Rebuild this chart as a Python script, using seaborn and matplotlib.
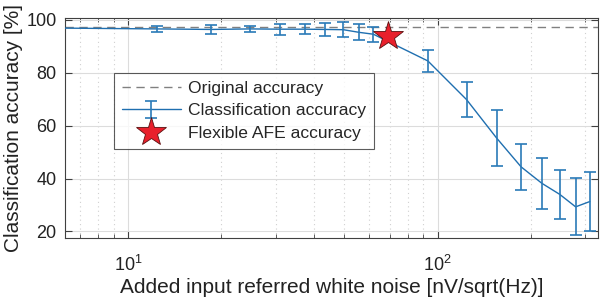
import numpy as np
import seaborn as sns
import matplotlib.pyplot as plt
from matplotlib.ticker import LogLocator, NullFormatter

# added noise levels [nV/sqrt(Hz)] and accuracy
noise = [6.2, 12.4, 18.6, 24.8, 31, 37.2, 43.4, 49.6, 55.8, 62,
         93, 124, 155, 186, 217, 248, 279, 310]
acc = [96.8, 96.5, 96.3, 96.5, 96.4, 96.4, 96.3, 96.2, 95.2, 94.5,
       84.4, 69.8, 55.3, 44.4, 38.2, 34.0, 29.3, 31.3]
err = [0.8, 1.0, 1.6, 1.1, 2.1, 1.9, 2.3, 2.8, 3.0, 2.8,
       4.3, 6.6, 10.7, 8.7, 9.6, 9.2, 10.8, 11.3]
original_acc = 97.1
afe_noise, afe_acc = 69, 94.0

blue = '#2a7ab8'

sns.set_style('ticks')
plt.rcParams['font.family'] = ['Liberation Sans', 'DejaVu Sans']

fig = plt.figure(figsize=(6, 3.01), dpi=100)
ax = fig.add_axes([0.108, 0.209, 0.889, 0.731])

dash = ax.axhline(original_acc, color='#808080', lw=1.0, ls=(0, (6, 4)),
                  label='Original accuracy', zorder=2)
sns.lineplot(x=noise, y=acc, ax=ax, color='#1f6fb0', lw=1.0, zorder=3)
line = ax.lines[-1]
# first point sits on the left border, its bar is not shown
eb = ax.errorbar(noise[1:], acc[1:], yerr=err[1:], fmt='none', ecolor=blue,
                 elinewidth=1.2, capsize=4, capthick=1.2, zorder=3)
star, = ax.plot([afe_noise], [afe_acc], ls='none', marker='*', markersize=22,
                markerfacecolor='#e8202c', markeredgecolor='#5a1010',
                markeredgewidth=0.6, zorder=5)

ax.set_xscale('log')
ax.set_xlim(6.25, 330)
ax.set_ylim(17.5, 100.6)
ax.set_yticks([20, 40, 60, 80, 100])
ax.xaxis.set_minor_locator(LogLocator(base=10, subs=np.arange(2, 10)))
ax.xaxis.set_minor_formatter(NullFormatter())

ax.grid(True, which='major', color='#dcdcdc', lw=0.8, ls='-')
ax.grid(True, which='minor', axis='x', color='#d0d0d0', lw=0.8, ls=(0, (1, 3)))
ax.set_axisbelow(True)

for s in ax.spines.values():
    s.set_color('#404040')
    s.set_linewidth(0.8)
ax.tick_params(which='both', direction='in', top=True, right=True,
               colors='#404040', labelcolor='#222222', labelsize=13)
ax.tick_params(which='major', length=5)
ax.tick_params(which='minor', length=3)
ax.tick_params(axis='x', which='major', pad=12)
ax.tick_params(axis='y', which='major', pad=6)

ax.set_xlabel('Added input referred white noise [nV/sqrt(Hz)]', fontsize=15,
              color='#222222', labelpad=2)
ax.set_ylabel('Classification accuracy [%]', fontsize=15, color='#222222',
              labelpad=2)

leg = ax.legend([dash, (line, eb), star],
                ['Original accuracy', 'Classification accuracy', 'Flexible AFE accuracy'],
                loc='upper left', bbox_to_anchor=(0.092, 0.75), fontsize=12.6,
                frameon=True, fancybox=False, edgecolor='#333333',
                handlelength=3.4, handletextpad=0.4, borderpad=0.45,
                labelspacing=0.4, borderaxespad=0)
leg.get_frame().set_linewidth(0.8)

fig.savefig('out.png', dpi=100)
